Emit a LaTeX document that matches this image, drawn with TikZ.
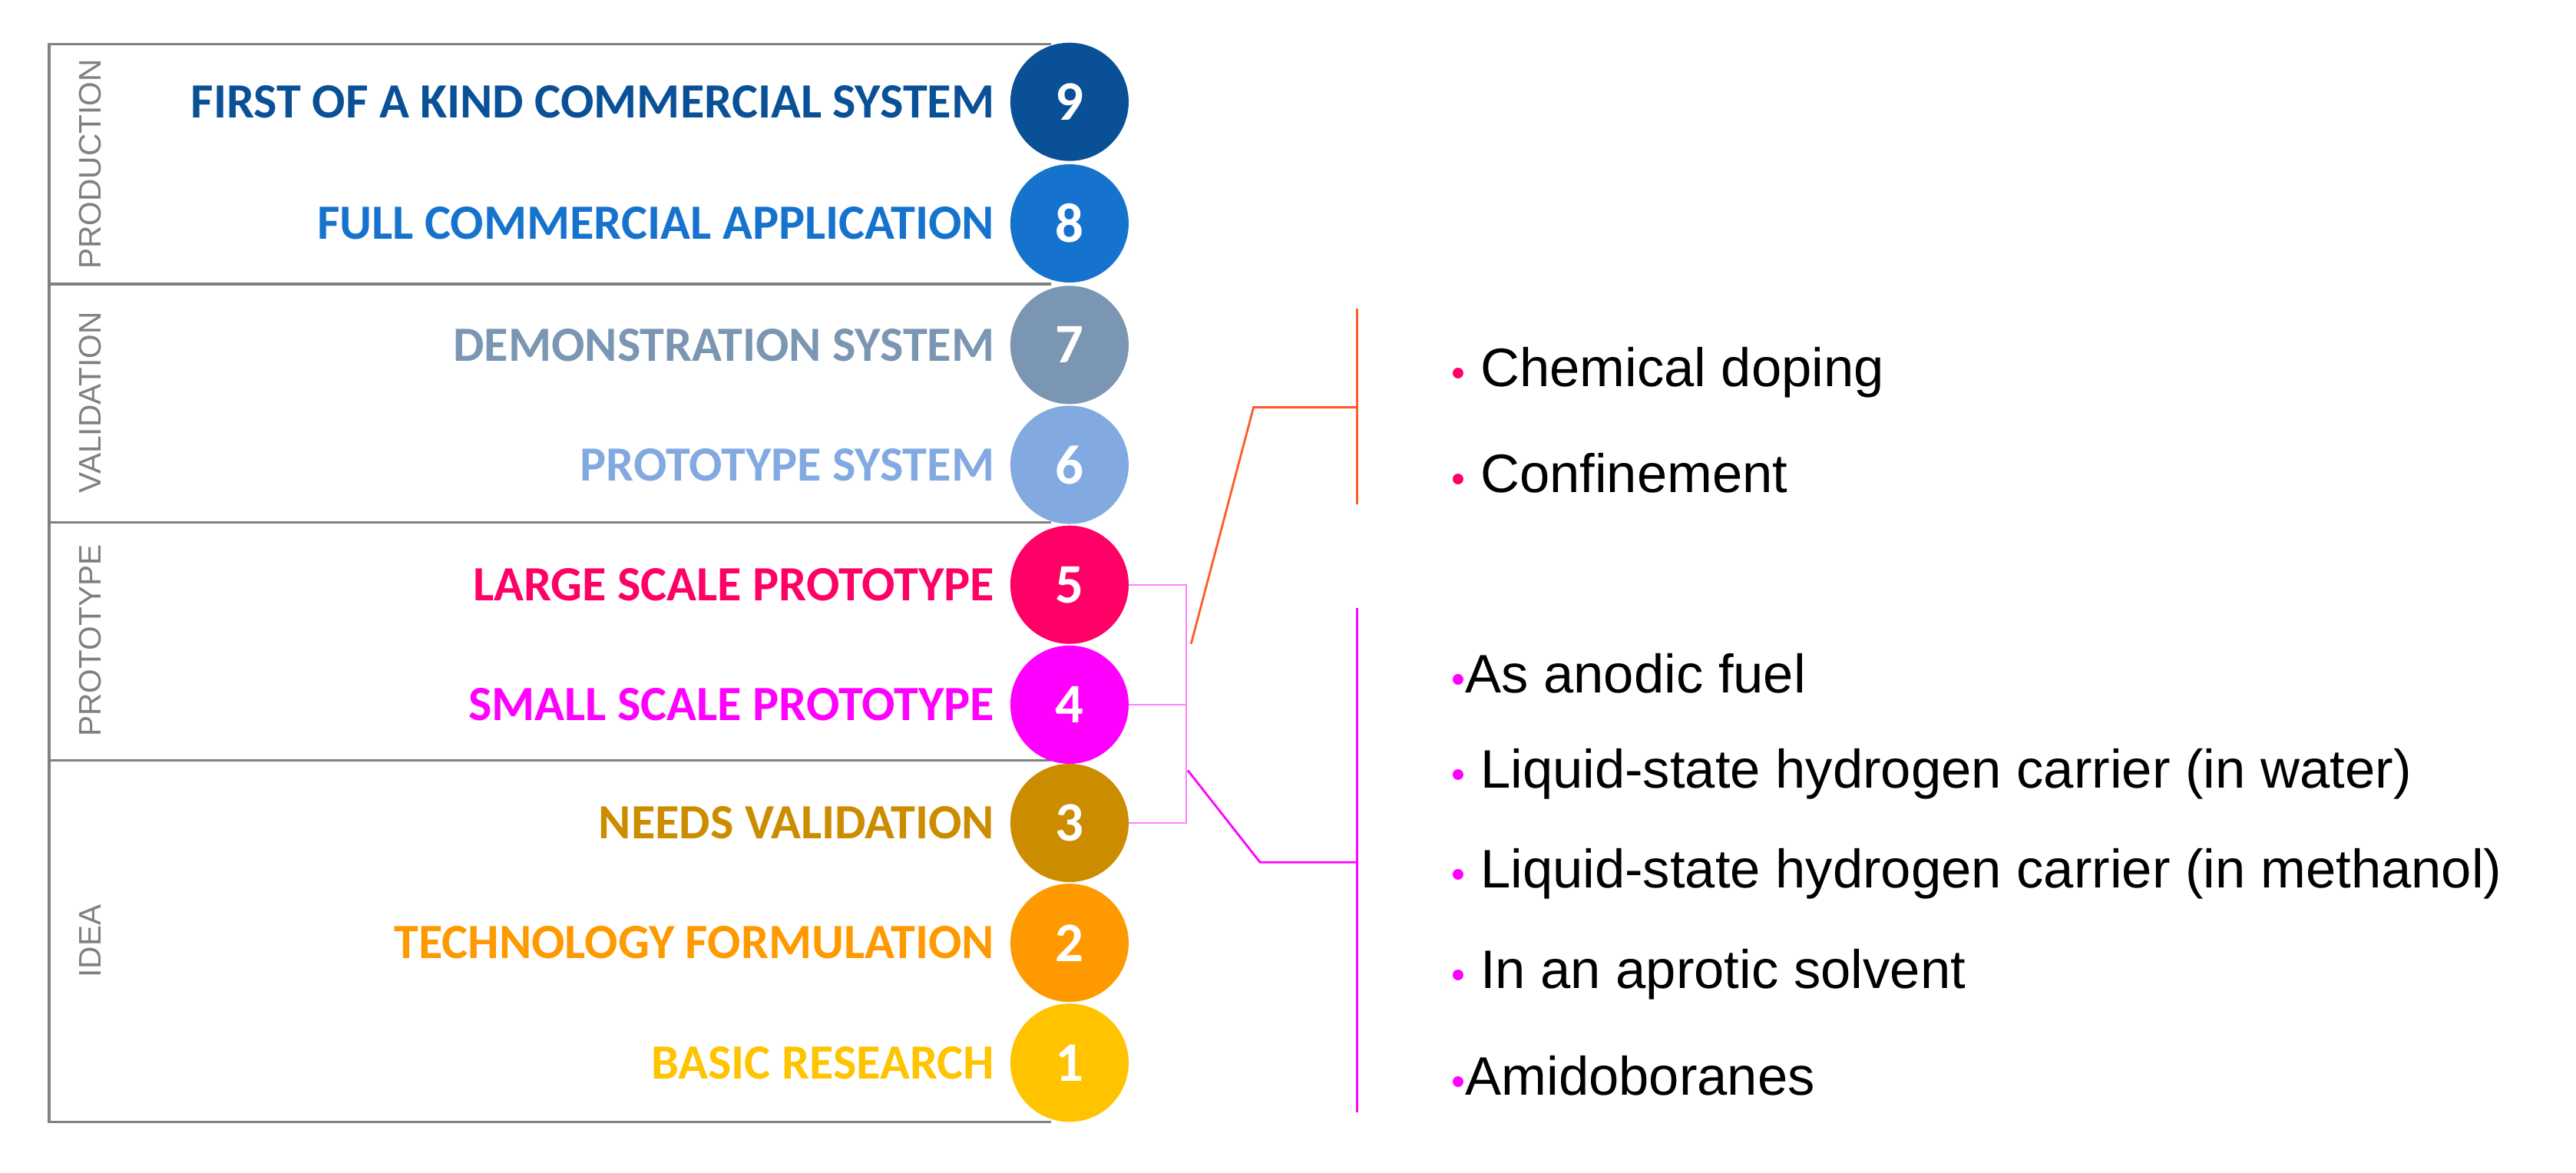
\documentclass[tikz,border=0pt]{standalone}
\usepackage{fontspec}
\setmainfont{Liberation Sans}
\newfontfamily\lblfont{Carlito}
\usetikzlibrary{positioning,calc}
\definecolor{trlnine}{RGB}{10,80,150}
\definecolor{trleight}{RGB}{22,115,205}
\definecolor{trlseven}{RGB}{122,150,178}
\definecolor{trlsix}{RGB}{130,170,225}
\definecolor{trlfive}{RGB}{255,0,102}
\definecolor{trlfour}{RGB}{255,0,255}
\definecolor{trlthree}{RGB}{204,140,0}
\definecolor{trltwo}{RGB}{255,153,0}
\definecolor{trlone}{RGB}{255,195,0}
\definecolor{linkorange}{RGB}{255,90,40}
\definecolor{phasegray}{RGB}{128,128,128}
\newcommand{\dotin}[1]{\textcolor{#1}{{\fontsize{24}{24}\selectfont\textbullet}}}
\begin{document}
\begin{tikzpicture}[x=1pt,y=-1pt,
    level/.style={circle, minimum size=72pt, inner sep=0pt, text=white, font=\lblfont\bfseries\fontsize{34}{34}\selectfont},
    trl/.style={left=6pt of #1, font=\lblfont\bfseries\fontsize{30}{30}\selectfont},
    phase/.style={rotate=90, text=phasegray, font=\fontsize{19}{19}\selectfont},
    sep/.style={draw=phasegray, line width=1.6pt},
    item/.style={anchor=west, font=\fontsize{33}{33}\selectfont}]
    \useasboundingbox (0,0) rectangle (1568,714);

    %% Phase frame
    \draw[sep] (640,27) -- (30,27) -- (30,683) -- (640,683);
    \draw[sep] (30,173) -- (640,173);
    \draw[sep] (30,318) -- (640,318);
    \draw[sep] (30,463) -- (640,463);
    \node[phase] (pprod) at (55,100) {PRODUCTION};
    \node[phase] (pval) at (55,245) {VALIDATION};
    \node[phase] (pproto) at (55,390) {PROTOTYPE};
    \node[phase] (pidea) at (55,573) {IDEA};

    %% Readiness levels
    \node[level, fill=trlnine] (c9) at (651,62) {9};
    \node[level, fill=trleight] (c8) at (651,136) {8};
    \node[level, fill=trlseven] (c7) at (651,210) {7};
    \node[level, fill=trlsix] (c6) at (651,283) {6};
    \node[level, fill=trlfive] (c5) at (651,356) {5};
    \node[level, fill=trlfour] (c4) at (651,429) {4};
    \node[level, fill=trlthree] (c3) at (651,501) {3};
    \node[level, fill=trltwo] (c2) at (651,574) {2};
    \node[level, fill=trlone] (c1) at (651,647) {1};

    \node[trl=c9, text=trlnine] (t9) {FIRST OF A KIND COMMERCIAL SYSTEM};
    \node[trl=c8, text=trleight] (t8) {FULL COMMERCIAL APPLICATION};
    \node[trl=c7, text=trlseven] (t7) {DEMONSTRATION SYSTEM};
    \node[trl=c6, text=trlsix] (t6) {PROTOTYPE SYSTEM};
    \node[trl=c5, text=trlfive] (t5) {LARGE SCALE PROTOTYPE};
    \node[trl=c4, text=trlfour] (t4) {SMALL SCALE PROTOTYPE};
    \node[trl=c3, text=trlthree] (t3) {NEEDS VALIDATION};
    \node[trl=c2, text=trltwo] (t2) {TECHNOLOGY FORMULATION};
    \node[trl=c1, text=trlone] (t1) {BASIC RESEARCH};

    %% Small brackets
    \coordinate (b5) at (722,356);
    \coordinate (b4) at (722,429);
    \coordinate (b3) at (722,501);
    \draw[trlfour!50, line width=1pt] (c5.east) -- (b5) -- (b4) -- (c4.east);
    \draw[trlfour!50, line width=1pt] (c4.east) -- (b4) -- (b3) -- (c3.east);

    %% Orange group
    \coordinate (otop) at (826,188);
    \coordinate (obot) at (826,307);
    \coordinate (omid) at (826,248);
    \draw[linkorange, line width=1.3pt] (otop) -- (obot);
    \draw[linkorange, line width=1.3pt] (725,392) -- (763,248) -- (omid);
    \node[item] (i1) at (880,227) {\dotin{trlfive} Chemical doping};
    \node[item] (i2) at (880,288) {\dotin{trlfive} Confinement};

    %% Magenta group
    \coordinate (mtop) at (826,370);
    \coordinate (mbot) at (826,677);
    \coordinate (mmid) at (826,525);
    \draw[trlfour, line width=1.3pt] (mtop) -- (mbot);
    \draw[trlfour, line width=1.3pt] (723,469) -- (767,525) -- (mmid);
    \node[item] (i3) at (880,410) {\dotin{trlfour}As anodic fuel};
    \node[item] (i4) at (880,471) {\dotin{trlfour} Liquid-state hydrogen carrier (in water)};
    \node[item] (i5) at (880,532) {\dotin{trlfour} Liquid-state hydrogen carrier (in methanol)};
    \node[item] (i6) at (880,593) {\dotin{trlfour} In an aprotic solvent};
    \node[item] (i7) at (880,655) {\dotin{trlfour}Amidoboranes};
\end{tikzpicture}
\end{document}
